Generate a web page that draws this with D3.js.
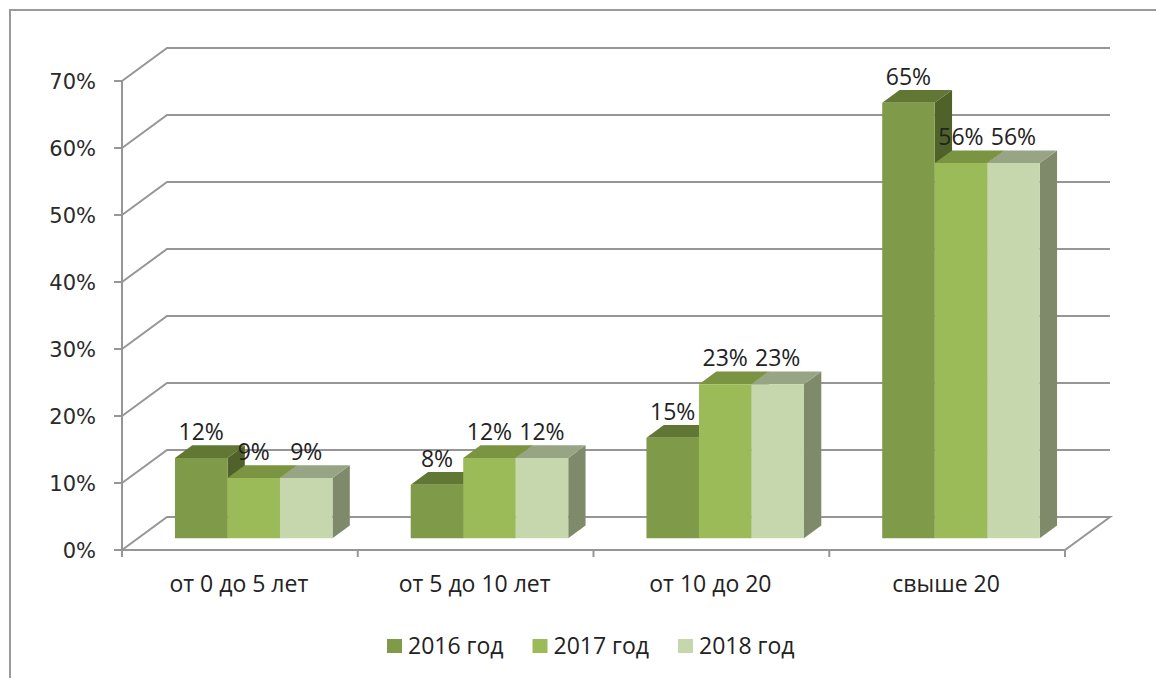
<!DOCTYPE html>
<html>
<head>
<meta charset="utf-8">
<script src="https://cdn.jsdelivr.net/npm/d3@7"></script>
<style>
  body { margin: 0; background: #fff; }
  svg { display: block; }
  .ylab { font-family: 'DejaVu Sans', Verdana, sans-serif; font-size: 21px; fill: #2a2a2a; }
  .lab { font-family: 'Open Sans', sans-serif; font-size: 23px; fill: #222; }
</style>
</head>
<body>
<div id="chart"></div>
<script>
var categories = ["от 0 до 5 лет", "от 5 до 10 лет", "от 10 до 20", "свыше 20"];
var series = ["2016 год", "2017 год", "2018 год"];
var values2016 = [12, 8, 15, 65];
var values2017 = [9, 12, 23, 56];
var values2018 = [9, 12, 23, 56];
var yTicks = [0, 10, 20, 30, 40, 50, 60, 70];

var width = 1156,
  height = 678;

// colours per series: front, top, side
var colors = [
  { front: "#7f9a48", top: "#617834", side: "#4f6229" },
  { front: "#9bbb59", top: "#7a9441", side: "#6e8a3b" },
  { front: "#c6d7ad", top: "#98a584", side: "#7f8a6b" }
];

var svg = d3.select("#chart")
  .append("svg")
  .attr("width", width)
  .attr("height", height);

// outer frame
svg.append("path")
  .attr("d", "M10,678 L10,10 L1156,10")
  .attr("fill", "none")
  .attr("stroke", "#9a9a9a")
  .attr("stroke-width", 2);

var y = d3.scaleLinear()
  .domain([0, 70])
  .range([550, 81]);

var x = d3.scaleBand()
  .domain(categories)
  .range([122, 1065]);

var inner = d3.scaleBand()
  .domain(series)
  .range([37, 37 + 157.5]);

// depth of the whole plot box, and the slice used by the bars
var depthX = 45,
  depthY = -33;
var barFront = 0.355,
  barBack = 0.74;

function pt(px, v, f) {
  return [px + f * depthX, y(v) + f * depthY];
}

var grid = svg.append("g").attr("class", "grid");

// back wall gridlines with the left side wall diagonal
grid.selectAll("path.gl")
  .data(yTicks.filter(function(d) { return d > 0; }))
  .enter().append("path")
  .attr("class", "gl")
  .attr("d", function(d) {
    var a = pt(122, d, 0), b = pt(122, d, 1), c = pt(1065, d, 1);
    return "M" + a + "L" + b + "L" + c;
  })
  .attr("fill", "none")
  .attr("stroke", "#969696")
  .attr("stroke-width", 2);

// floor
var f0 = pt(122, 0, 0), f1 = pt(122, 0, 1), f2 = pt(1065, 0, 1), f3 = pt(1065, 0, 0);
grid.append("path")
  .attr("d", "M" + f0 + "L" + f1 + "L" + f2 + "L" + f3 + "Z")
  .attr("fill", "none")
  .attr("stroke", "#969696")
  .attr("stroke-width", 2);

// vertical axis + ticks
grid.append("line")
  .attr("x1", 122).attr("x2", 122)
  .attr("y1", y(70)).attr("y2", y(0))
  .attr("stroke", "#969696")
  .attr("stroke-width", 2);

grid.selectAll("line.ytick")
  .data(yTicks)
  .enter().append("line")
  .attr("class", "ytick")
  .attr("x1", 114).attr("x2", 122)
  .attr("y1", function(d) { return y(d); })
  .attr("y2", function(d) { return y(d); })
  .attr("stroke", "#969696")
  .attr("stroke-width", 2);

// category ticks
var catTicks = categories.map(function(c) { return x(c); }).concat([x.range()[1]]);
grid.selectAll("line.xtick")
  .data(catTicks)
  .enter().append("line")
  .attr("class", "xtick")
  .attr("x1", function(d) { return d; })
  .attr("x2", function(d) { return d; })
  .attr("y1", y(0))
  .attr("y2", y(0) + 7)
  .attr("stroke", "#969696")
  .attr("stroke-width", 2);

// y labels
svg.append("g")
  .selectAll("text")
  .data(yTicks)
  .enter().append("text")
  .attr("class", "ylab")
  .attr("x", 96)
  .attr("y", function(d) { return y(d); })
  .attr("dy", "0.37em")
  .attr("text-anchor", "end")
  .text(function(d) { return d + "%"; });

// category labels
svg.append("g")
  .selectAll("text")
  .data(categories)
  .enter().append("text")
  .attr("class", "lab")
  .attr("x", function(d) { return x(d) + x.bandwidth() / 2 - 1; })
  .attr("y", 592)
  .attr("text-anchor", "middle")
  .text(function(d) { return d; });

// bars
var seriesValues = [values2016, values2017, values2018];
var bars = [];
categories.forEach(function(c, ci) {
  series.forEach(function(s, si) {
    bars.push({ cat: c, ser: s, si: si, value: seriesValues[si][ci] });
  });
});

var bw = inner.bandwidth();
var barG = svg.append("g").attr("class", "bars");

bars.forEach(function(d) {
  var x0 = x(d.cat) + inner(d.ser),
    x1 = x0 + bw;
  var col = colors[d.si];
  var g = barG.append("g");

  var fbl = pt(x0, 0, barFront), fbr = pt(x1, 0, barFront),
    ftl = pt(x0, d.value, barFront), ftr = pt(x1, d.value, barFront),
    btl = pt(x0, d.value, barBack), btr = pt(x1, d.value, barBack),
    bbr = pt(x1, 0, barBack);

  g.append("path")
    .attr("d", "M" + ftr + "L" + btr + "L" + bbr + "L" + fbr + "Z")
    .attr("fill", col.side);
  g.append("path")
    .attr("d", "M" + ftl + "L" + btl + "L" + btr + "L" + ftr + "Z")
    .attr("fill", col.top);
  g.append("path")
    .attr("d", "M" + fbl + "L" + ftl + "L" + ftr + "L" + fbr + "Z")
    .attr("fill", col.front);
});

// data labels
svg.append("g")
  .selectAll("text")
  .data(bars)
  .enter().append("text")
  .attr("class", "lab")
  .attr("x", function(d) { return pt(x(d.cat) + inner(d.ser) + bw / 2, 0, barFront)[0]; })
  .attr("y", function(d) { return pt(0, d.value, barFront)[1] - 18; })
  .attr("text-anchor", "middle")
  .text(function(d) { return d.value + "%"; });

// legend
var legend = svg.append("g")
  .attr("transform", "translate(387,639)");

var item = legend.selectAll("g")
  .data(series)
  .enter().append("g")
  .attr("transform", function(d, i) { return "translate(" + (i * 145.5) + ",0)"; });

item.append("rect")
  .attr("width", 15)
  .attr("height", 14)
  .attr("fill", function(d, i) { return colors[i].front; });

item.append("text")
  .attr("class", "lab")
  .attr("x", 21)
  .attr("y", 15)
  .text(function(d) { return d; });
</script>
</body>
</html>
